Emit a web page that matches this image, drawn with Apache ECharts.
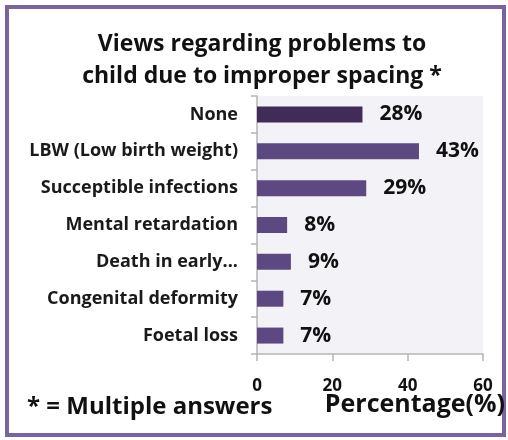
<!DOCTYPE html>
<html>
<head>
<meta charset="utf-8">
<script src="https://cdn.jsdelivr.net/npm/echarts@6/dist/echarts.min.js"></script>
<style>
html,body{margin:0;padding:0;background:#fff;}
#c{width:508px;height:440px;}
</style>
</head>
<body>
<div id="c"></div>
<script>
const categories = ["None", "LBW (Low birth weight)", "Succeptible infections", "Mental retardation", "Death in early...", "Congenital deformity", "Foetal loss"];
const values = [28, 43, 29, 8, 9, 7, 7];
const xTicks = [0, 20, 40, 60];

const FONT = 'Open Sans';
const chart = echarts.init(document.getElementById('c'), null, {renderer: 'canvas'});
const barColors = values.map((v, i) => i === 0 ? '#3f2c58' : '#5d4981');

chart.setOption({
  animation: false,
  backgroundColor: '#ffffff',
  grid: {left: 257, right: 25, top: 96, bottom: 86, show: true, backgroundColor: '#f3f2f6', borderWidth: 0},
  xAxis: {
    type: 'value', min: xTicks[0], max: xTicks[xTicks.length - 1], interval: 20,
    axisLine: {show: true, lineStyle: {color: '#b5b5b5', width: 1.5}},
    axisTick: {show: true, length: 7, lineStyle: {color: '#b5b5b5', width: 1.5}},
    splitLine: {show: false},
    axisLabel: {margin: 24, fontFamily: FONT, fontWeight: 'bold', fontSize: 17, color: '#111'}
  },
  yAxis: {
    type: 'category', data: categories, inverse: true,
    axisLine: {show: true, lineStyle: {color: '#b5b5b5', width: 1.5}},
    axisTick: {show: true, length: 6, inside: false, lineStyle: {color: '#b5b5b5', width: 1.5}},
    axisLabel: {margin: 19, fontFamily: FONT, fontWeight: 'bold', fontSize: 18, color: '#1a1a1a'}
  },
  series: [{
    type: 'bar',
    data: values.map((v, i) => ({value: v, itemStyle: {color: barColors[i]}})),
    barWidth: 16,
    label: {
      show: true, position: 'right', distance: 17,
      formatter: p => p.value + '%',
      fontFamily: FONT, fontWeight: 'bold', fontSize: 21, color: '#111'
    }
  }],
  graphic: [
    {type: 'rect', shape: {x: 7, y: 7, width: 497, height: 428}, style: {fill: 'none', stroke: '#7a63a1', lineWidth: 4}},
    {type: 'text', x: 262, y: 44, style: {text: 'Views regarding problems to', fontFamily: FONT, fontWeight: 'bold', fontSize: 23, fill: '#111', align: 'center', verticalAlign: 'middle'}},
    {type: 'text', x: 262, y: 76, style: {text: 'child due to improper spacing *', fontFamily: FONT, fontWeight: 'bold', fontSize: 23, fill: '#111', align: 'center', verticalAlign: 'middle'}},
    {type: 'text', x: 27, y: 407, style: {text: '* = Multiple answers', fontFamily: FONT, fontWeight: 'bold', fontSize: 24, fill: '#111', align: 'left', verticalAlign: 'middle'}},
    {type: 'text', x: 505, y: 405, style: {text: 'Percentage(%)', fontFamily: FONT, fontWeight: 'bold', fontSize: 25, fill: '#111', align: 'right', verticalAlign: 'middle'}}
  ]
});
</script>
</body>
</html>
